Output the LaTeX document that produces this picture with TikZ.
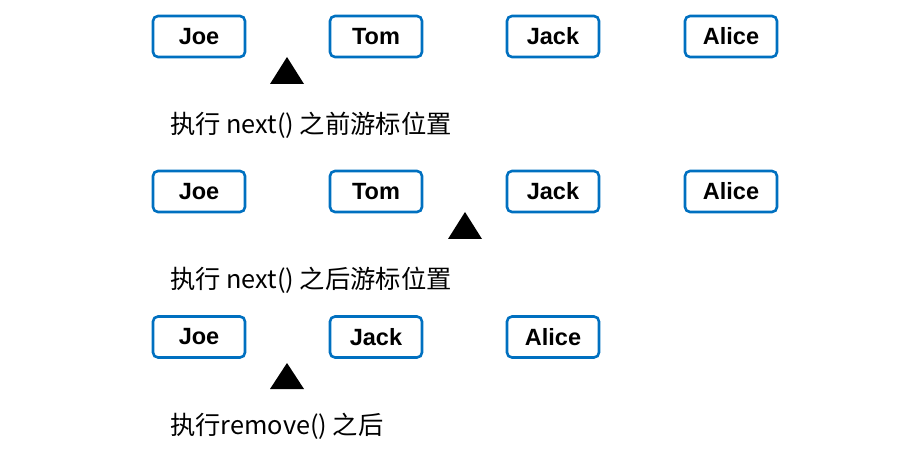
\documentclass[tikz,border=0pt]{standalone}
\usepackage{fontspec}
\setmainfont{Liberation Sans}
\newfontfamily\cjk{Noto Sans CJK SC}
\definecolor{boxblue}{RGB}{0,112,192}
\tikzset{
  namebox/.style={draw=boxblue, line width=2.6pt, rounded corners=5pt, minimum width=92pt, minimum height=41pt, inner sep=0pt, font=\fontsize{23.5}{28}\selectfont\bfseries},
  caption/.style={anchor=west, inner sep=0pt, font=\cjk\fontsize{25.3}{30}\selectfont},
  cursor/.style={fill=black}
}
\begin{document}
\begin{tikzpicture}[x=1pt,y=-1pt]
\useasboundingbox (0,0) rectangle (924,457);
% row 1
\node[namebox] (a1) at (199,36.5) {Joe};
\node[namebox] (b1) at (376,36.5) {Tom};
\node[namebox] (c1) at (553,36.5) {Jack};
\node[namebox] (d1) at (731,36.5) {Alice};
\fill[cursor] (287,57) -- (304,84) -- (270,84) -- cycle;
\node[caption] (t1) at (170,125) {执行 next() 之前游标位置};
% row 2
\node[namebox] (a2) at (199,191.5) {Joe};
\node[namebox] (b2) at (376,191.5) {Tom};
\node[namebox] (c2) at (553,191.5) {Jack};
\node[namebox] (d2) at (731,191.5) {Alice};
\fill[cursor] (465,212) -- (482,239) -- (448,239) -- cycle;
\node[caption] (t2) at (170,280) {执行 next() 之后游标位置};
% row 3
\node[namebox] (a3) at (199,337) {Joe};
\node[namebox] (b3) at (376,337) {Jack};
\node[namebox] (c3) at (553,337) {Alice};
\fill[cursor] (287,363) -- (304,389) -- (270,389) -- cycle;
\node[caption] (t3) at (170,426) {执行remove() 之后};
\end{tikzpicture}
\end{document}
